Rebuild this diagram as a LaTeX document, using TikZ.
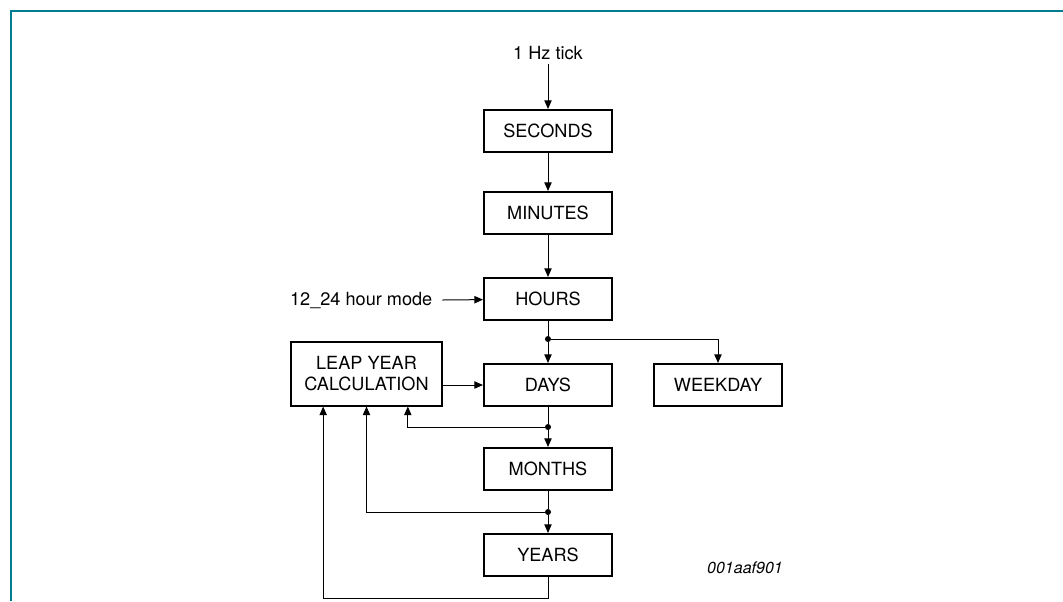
\documentclass[tikz,border=0pt]{standalone}
\usepackage{fontspec}
\setmainfont{TeX Gyre Heros}
\usepackage{tikz}
\usetikzlibrary{arrows.meta}
\definecolor{frameteal}{RGB}{0,124,146}

\begin{document}
\begin{tikzpicture}[x=0.75pt,y=-0.75pt,
    font=\fontsize{13.6}{16}\selectfont,
    blockbox/.style={draw,line width=1.5pt,minimum width=96pt,minimum height=31.5pt,inner sep=0pt,align=center},
    link/.style={line width=0.75pt,-{Triangle[length=6.5pt,width=5.5pt]}},
    wire/.style={line width=0.75pt},
    joint/.style={circle,fill,inner sep=0pt,minimum size=4.5pt}]
    \useasboundingbox (0,0) rectangle (1063,601);
    % frame
    \draw[frameteal,line width=1.5pt] (10.5,601) -- (10.5,10.5) -- (1063,10.5);

    % counter chain
    \node (tick) at (548,53) {1 Hz tick};
    \node[blockbox] (sec) at (548,131) {SECONDS};
    \node[blockbox] (min) at (548,213) {MINUTES};
    \node[blockbox] (hrs) at (548,299) {HOURS};
    \node[blockbox] (days) at (548,385) {DAYS};
    \node[blockbox] (wday) at (718,385) {WEEKDAY};
    \node[blockbox] (mon) at (548,469) {MONTHS};
    \node[blockbox] (yrs) at (548,555) {YEARS};
    \node[blockbox,minimum width=113pt,minimum height=48pt] (leap) at (366.5,373.5) {LEAP YEAR\\CALCULATION};
    \node[anchor=east] (mode) at (437,300) {12\_24 hour mode};
    \node[font=\fontsize{12}{14}\selectfont\itshape] (code) at (745,568) {001aaf901};

    % junctions
    \node[joint] (j1) at (548,339) {};
    \node[joint] (j2) at (548,427) {};
    \node[joint] (j3) at (548,512) {};
    \coordinate (yb) at (548,598);

    \draw[link] (tick) -- (sec);
    \draw[link] (sec) -- (min);
    \draw[link] (min) -- (hrs);
    \draw[link] ([xshift=4pt]mode.east) -- (hrs);
    \draw[wire] (hrs) -- (j1);
    \draw[link] (j1) -- (days);
    \draw[link] (j1) -| (wday);
    \draw[link] (leap.east |- days.west) -- (days);
    \draw[wire] (days) -- (j2);
    \draw[link] (j2) -- (mon);
    \draw[link] (j2) -| ([xshift=31pt]leap.south);
    \draw[wire] (mon) -- (j3);
    \draw[link] (j3) -- (yrs);
    \draw[link] (j3) -| (leap.south);
    \draw[link] (yrs) -- (yb) -| ([xshift=-32.5pt]leap.south);
\end{tikzpicture}
\end{document}
